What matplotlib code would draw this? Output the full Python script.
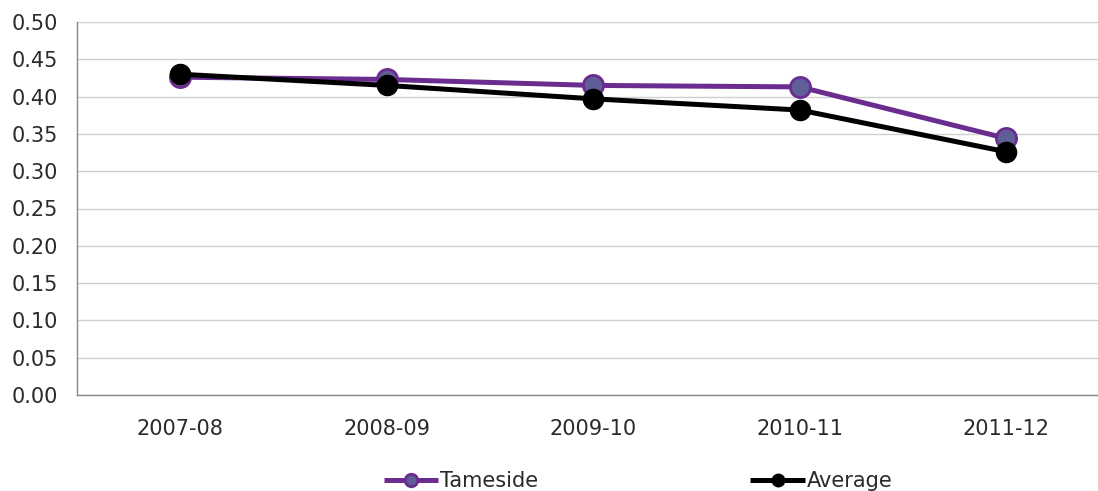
import matplotlib
matplotlib.use("Agg")
import matplotlib.pyplot as plt

categories = ["2007-08", "2008-09", "2009-10", "2010-11", "2011-12"]
tameside = [0.426, 0.423, 0.415, 0.413, 0.344]
average = [0.430, 0.415, 0.397, 0.382, 0.326]
yticks = [0.00, 0.05, 0.10, 0.15, 0.20, 0.25, 0.30, 0.35, 0.40, 0.45, 0.50]

plt.rcParams['font.family'] = ['DejaVu Sans']
fig = plt.figure(figsize=(10.98, 4.91), dpi=100)
ax = fig.add_axes([77/1098, 96/491, 1 - 77/1098, (395-22)/491])

x = list(range(len(categories)))
ax.plot(x, tameside, color='#6a2c8e', lw=3.6, marker='o', markersize=14.5,
        markerfacecolor='#5f5e96', markeredgecolor='#6a2c8e', markeredgewidth=2,
        label='Tameside', zorder=3, solid_capstyle='butt')
ax.plot(x, average, color='black', lw=3.6, marker='o', markersize=14.5,
        markerfacecolor='black', markeredgecolor='black',
        label='Average', zorder=4, solid_capstyle='butt')

ax.set_xlim(-0.5, -0.5 + 1021/206.5)
ax.set_ylim(0, 0.5)
ax.set_yticks(yticks)
ax.set_yticklabels([f"{v:.2f}" for v in yticks])
ax.set_xticks(x)
ax.set_xticklabels(categories)
ax.tick_params(axis='both', length=0, labelsize=15, colors='#2a2a2a')
ax.tick_params(axis='y', pad=14)
ax.tick_params(axis='x', pad=17)
ax.grid(axis='y', color='#d0d0d0', lw=1)
ax.set_axisbelow(True)
for s in ['top', 'right']:
    ax.spines[s].set_visible(False)
for s in ['left', 'bottom']:
    ax.spines[s].set_color('#888888')
    ax.spines[s].set_linewidth(1)

fig.legend(loc='center', bbox_to_anchor=(638/1098, 10/491), ncol=2, frameon=False,
           fontsize=15, handlelength=2.6, handletextpad=0.1, columnspacing=10.2,
           markerscale=0.62, labelcolor='#2a2a2a')

fig.savefig('out.png', dpi=100)
